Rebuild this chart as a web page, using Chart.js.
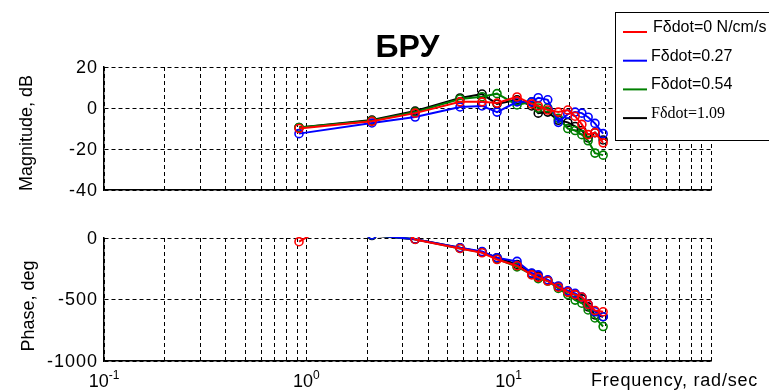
<!DOCTYPE html>
<html>
<head>
<meta charset="utf-8">
<script src="https://cdn.jsdelivr.net/npm/chart.js@4.4.0/dist/chart.umd.min.js"></script>
<style>
  html, body { margin: 0; padding: 0; background: #fff; }
  #wrap { position: relative; width: 769px; height: 391px; overflow: hidden; }
  canvas { position: absolute; left: 0; }
  #magCanvas { top: 0; }
  #phaseCanvas { top: 200px; }
</style>
</head>
<body>
<div id="wrap">
  <canvas id="magCanvas" width="769" height="200"></canvas>
  <canvas id="phaseCanvas" width="769" height="191"></canvas>
</div>
<script>
// measured frequencies, rad/sec
const freq = [0.92, 2.11, 3.45, 5.75, 7.39, 8.76, 11.0, 13.0, 14.0, 15.6, 17.6, 19.6, 21.3, 23.0, 24.7, 26.7, 29.3];

const seriesLabels = ['F\u03b4dot=0 N/cm/s', 'F\u03b4dot=0.27', 'F\u03b4dot=0.54', 'F\u03b4dot=1.09'];
const seriesColors = ['#ff0000', '#0000ff', '#008000', '#000000'];

// magnitude, dB
const magRed   = [-10, -6.5, -2.5, 3, 3, 2.4, 5.4, 2, 1, -1, -2, -1, -4, -8, -13, -12, -17];
const magBlue  = [-12.5, -7.3, -4.4, 0.5, 1, -2, 3, 3, 5, 4, -7, -3, -2, -2.5, -4.5, -7.5, -12.5];
const magGreen = [-9.5, -6.2, -2, 4.4, 5.5, 7, 1.5, 3, 0, 0, -5, -10, -11, -13, -16, -22, -23];
const magBlack = [-9.5, -5.9, -1.5, 4.9, 6.8, 2, 4, 1, -2.5, -2, -6, -7, -9, -11, -14.6, -12, -15.6];

// phase, deg (values above 0 fall outside the axis)
const phaseRed   = [-30, 300, -12, -85, -120, -175, -225, -300, -320, -350, -400, -440, -460, -480, -540, -590, -600];
const phaseBlue  = [300, 25, -10, -80, -110, -160, -190, -285, -300, -340, -390, -430, -450, -480, -540, -600, -640];
const phaseGreen = [300, 25, -10, -85, -115, -170, -235, -295, -330, -350, -410, -460, -505, -530, -585, -650, -720];
const phaseBlack = [300, 20, -10, -80, -115, -160, -215, -290, -310, -345, -395, -440, -460, -495, -560, -625, -640];

const magTicks = [20, 0, -20, -40];
const phaseTicks = [0, -500, -1000];
const decadeTicks = [0.1, 1, 10, 100];
const decadeExp = ['-1', '0', '1', '2'];

// log grid: 1..9 in every decade
const logGrid = [];
[0.1, 1, 10].forEach(d => { for (let k = 1; k <= 9; k++) logGrid.push(+(d * k).toPrecision(3)); });
logGrid.push(100);

const FONT = '"Liberation Sans", Arial, sans-serif';

function makeSets(series, clip) {
  return series.map((vals, i) => ({
    label: seriesLabels[i],
    data: freq.map((f, j) => ({ x: f, y: vals[j] })),
    showLine: true,
    borderColor: seriesColors[i],
    backgroundColor: seriesColors[i],
    borderWidth: 2,
    pointStyle: 'circle',
    pointRadius: 4,
    pointBorderWidth: 1.6,
    pointBackgroundColor: 'rgba(0,0,0,0)',
    pointBorderColor: seriesColors[i],
    tension: 0,
    clip: clip
  }));
}

function drawPow(ctx, x, baseline, exp) {
  ctx.font = '18px ' + FONT;
  const w1 = ctx.measureText('10').width;
  ctx.font = '12px ' + FONT;
  const w2 = ctx.measureText(exp).width;
  const start = x - (w1 + w2) / 2;
  ctx.textAlign = 'left';
  ctx.textBaseline = 'alphabetic';
  ctx.font = '18px ' + FONT;
  ctx.fillText('10', start, baseline);
  ctx.font = '12px ' + FONT;
  ctx.fillText(exp, start + w1, baseline - 8);
}

// tick labels, axis titles, title and legend
const axisText = {
  id: 'axisText',
  afterDraw(chart, args, opts) {
    const ctx = chart.ctx;
    const xs = chart.scales.x, ys = chart.scales.y;
    const area = chart.chartArea;
    ctx.save();
    ctx.fillStyle = '#000';

    ctx.font = '18px ' + FONT;
    ctx.letterSpacing = '1px';
    ctx.textAlign = 'right';
    ctx.textBaseline = 'middle';
    opts.yTicks.forEach(v => ctx.fillText(String(v), 98, ys.getPixelForValue(v) + 1));
    ctx.letterSpacing = '0px';

    decadeTicks.slice(0, opts.xTickCount).forEach((v, i) =>
      drawPow(ctx, xs.getPixelForValue(v), opts.xBaseline, decadeExp[i]));

    ctx.save();
    ctx.translate(opts.yTitleX, opts.yTitleY);
    ctx.rotate(-Math.PI / 2);
    ctx.font = '18px ' + FONT;
    ctx.textAlign = 'center';
    ctx.textBaseline = 'middle';
    ctx.fillText(opts.yTitle, 0, 0);
    ctx.restore();

    if (opts.xTitle) {
      ctx.font = '18px ' + FONT;
      ctx.letterSpacing = '0.8px';
      ctx.textAlign = 'left';
      ctx.textBaseline = 'alphabetic';
      ctx.fillText(opts.xTitle, 591, opts.xBaseline - 1);
      ctx.letterSpacing = '0px';
    }

    if (opts.title) {
      ctx.font = 'bold 32px ' + FONT;
      ctx.textAlign = 'center';
      ctx.textBaseline = 'alphabetic';
      ctx.fillText(opts.title, (area.left + area.right) / 2, 57);
    }

    if (opts.legend) {
      ctx.fillStyle = '#fff';
      ctx.fillRect(615, 12, 160, 128);
      ctx.strokeStyle = '#000';
      ctx.lineWidth = 1;
      ctx.strokeRect(615.5, 12.5, 160, 128);
      chart.data.datasets.forEach((ds, i) => {
        const y = 32 + i * 28.7;
        ctx.strokeStyle = ds.borderColor;
        ctx.lineWidth = 2;
        ctx.beginPath();
        ctx.moveTo(623, y);
        ctx.lineTo(647, y);
        ctx.stroke();
        ctx.fillStyle = '#000';
        ctx.font = (i === 3 ? '16px "Liberation Serif", serif' : '16px ' + FONT);
        ctx.textAlign = 'left';
        ctx.textBaseline = 'alphabetic';
        ctx.fillText(ds.label, i === 0 ? 653 : 651, y);
      });
    }
    ctx.restore();
  }
};

function axes(yMin, yMax, yTicks) {
  // border.dash styles the grid lines; the axis line itself stays solid
  const grid = { color: '#000', lineWidth: 1, drawTicks: false };
  return {
    x: {
      type: 'logarithmic', min: 0.1, max: 100,
      afterBuildTicks: s => { s.ticks = logGrid.map(v => ({ value: v })); },
      afterFit: s => { s.height = 0; },
      ticks: { display: false },
      grid: grid,
      border: { display: true, color: '#000', width: 1.5, dash: [4, 3] }
    },
    y: {
      type: 'linear', min: yMin, max: yMax,
      afterBuildTicks: s => { s.ticks = yTicks.map(v => ({ value: v })); },
      afterFit: s => { s.width = 0; },
      ticks: { display: false },
      grid: Object.assign({}, grid),
      border: { display: true, color: '#000', width: 1.5, dash: [4, 3] }
    }
  };
}

function makeChart(id, series, clip, pad, scales, text) {
  return new Chart(document.getElementById(id).getContext('2d'), {
    type: 'scatter',
    data: { datasets: makeSets(series, clip) },
    options: {
      responsive: false,
      animation: false,
      devicePixelRatio: 1,
      layout: { padding: pad },
      scales: scales,
      plugins: { legend: { display: false }, tooltip: { enabled: false }, axisText: text }
    },
    plugins: [axisText]
  });
}

makeChart('magCanvas', [magRed, magBlue, magGreen, magBlack],
  { left: 6, right: 6, top: 6, bottom: 6 },
  { left: 104, right: 58, top: 67, bottom: 10 },
  axes(-40, 20, magTicks),
  { yTicks: magTicks, xTickCount: 4, xBaseline: 218, yTitle: 'Magnitude, dB', yTitleX: 27, yTitleY: 133,
    title: '\u0411\u0420\u0423', legend: true });

makeChart('phaseCanvas', [phaseRed, phaseBlue, phaseGreen, phaseBlack],
  { left: 6, right: 6, top: 1, bottom: 6 },
  { left: 104, right: 58, top: 38, bottom: 30 },
  axes(-1000, 0, phaseTicks),
  { yTicks: phaseTicks, xTickCount: 3, xBaseline: 187, yTitle: 'Phase, deg', yTitleX: 29, yTitleY: 106,
    xTitle: 'Frequency, rad/sec' });
</script>
</body>
</html>
